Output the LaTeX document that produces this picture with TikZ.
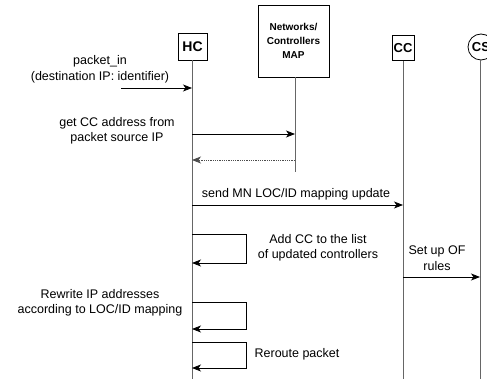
\documentclass[tikz,border=0pt]{standalone}
\usepackage{fontspec}
\setmainfont{Liberation Sans}
\usetikzlibrary{arrows.meta}
\begin{document}
\begin{tikzpicture}[x=1pt,y=-1pt,
 lbl/.style={font=\fontsize{12.5}{15.5}\selectfont, align=center, inner sep=0},
 box/.style={draw, fill=white, line width=0.8pt, inner sep=0},
 life/.style={draw=black!60, line width=1pt},
 msg/.style={-{Stealth[length=9pt,width=7pt,inset=2.5pt]}, line width=0.8pt},
 ret/.style={msg, densely dotted, draw=black!70}]
\useasboundingbox (0,0) rectangle (487,379);
% participants
\node[box, minimum width=29pt, minimum height=27pt, font=\bfseries\fontsize{14}{14}\selectfont] (HC) at (192.5,46.5) {HC};
\node[box, minimum width=71pt, minimum height=72pt, align=center, font=\bfseries\fontsize{10}{14}\selectfont] (MAP) at (293.5,41) {Networks/\\Controllers\\MAP};
\node[box, minimum width=22pt, minimum height=25pt, font=\bfseries\fontsize{13}{13}\selectfont] (CC) at (403,48) {CC};
\node[draw, circle, fill=white, line width=0.8pt, inner sep=0, minimum size=26pt, font=\bfseries\fontsize{13}{13}\selectfont] (CS) at (481,47) {CS};
% lifeline ends
\coordinate (HCend) at (192,379);
\coordinate (MAPend) at (295,172);
\coordinate (CCend) at (403,379);
\coordinate (CSend) at (480,379);
\draw[life] (HC.south -| HCend) -- (HCend);
\draw[life] (MAP.south -| MAPend) -- (MAPend);
\draw[life] (CC.south -| CCend) -- (CCend);
\draw[life] (CS.south -| CSend) -- (CSend);
% labels
\node[lbl] (t1) at (100,69.5) {packet\_in\\(destination IP: identifier)};
\node[lbl] (t2) at (117,131) {get CC address from\\packet source IP};
\node[lbl] (t3) at (296,194) {send MN LOC/ID mapping update};
\node[lbl] (t4) at (318,248) {Add CC to the list\\of updated controllers};
\node[lbl] (t5) at (437,258) {Set up OF\\rules};
\node[lbl] (t6) at (100,303) {Rewrite IP addresses\\according to LOC/ID mapping};
\node[lbl] (t7) at (297,354) {Reroute packet};
% message points
\coordinate (a0) at (121,88);  \coordinate (a1) at (192,88);
\coordinate (b0) at (192,134); \coordinate (b1) at (295,134);
\coordinate (c0) at (295,160); \coordinate (c1) at (192,160);
\coordinate (d0) at (192,205); \coordinate (d1) at (403,205);
\coordinate (e0) at (403,277); \coordinate (e1) at (480,277);
\coordinate (l1a) at (192,234); \coordinate (l1b) at (246,263);
\coordinate (l2a) at (192,302); \coordinate (l2b) at (246,329);
\coordinate (l3a) at (192,342); \coordinate (l3b) at (246,368);
% messages
\draw[msg] (a0) -- (a1);
\draw[msg] (b0) -- (b1);
\draw[ret] (c0) -- (c1);
\draw[msg] (d0) -- (d1);
\draw[msg] (e0) -- (e1);
\draw[msg] (l1a) -| (l1b) -- (l1b -| l1a);
\draw[msg] (l2a) -| (l2b) -- (l2b -| l2a);
\draw[msg] (l3a) -| (l3b) -- (l3b -| l3a);
\end{tikzpicture}
\end{document}
